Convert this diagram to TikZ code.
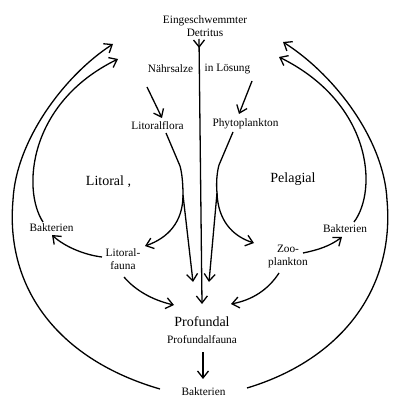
\documentclass[tikz,border=0pt]{standalone}
\usepackage{fontspec}
\setmainfont{Liberation Serif}
\usetikzlibrary{arrows.meta,decorations.markings}
\begin{document}
\begin{tikzpicture}[x=1pt,y=-1pt,
  lbl/.style={inner sep=0pt, align=center, font=\fontsize{11.3}{13}\selectfont},
  big/.style={inner sep=0pt, font=\fontsize{14}{16}\selectfont},
  flow/.style={line width=1.3pt, -{Straight Barb[length=7pt,width=11pt]}},
  plainline/.style={line width=1.3pt},
  midtip/.style={decoration={markings, mark=at position 9pt with {\arrow{Straight Barb[length=7pt,width=11pt]}}}, postaction=decorate}]
\useasboundingbox (0,0) rectangle (400,403);
% texts
\node[lbl] (det) at (205,26.5) {Eingeschwemmter\\Detritus};
\node[lbl] (naehr) at (170.5,69) {Nährsalze};
\node[lbl] (loes) at (227.5,69) {in Lösung};
\node[lbl] (lflora) at (157.5,126) {Litoralflora};
\node[lbl] (phyto) at (245.5,124) {Phytoplankton};
\node[big] (litoral) at (108.5,182) {Litoral ,};
\node[big] (pelagial) at (293,179) {Pelagial};
\node[lbl] (bakL) at (51.5,228) {Bakterien};
\node[lbl] (lfauna) at (123,259.5) {Litoral-\\fauna};
\node[lbl] (bakR) at (345,229) {Bakterien};
\node[lbl] (zoo) at (288,257) {Zoo-\\plankton};
\node[big] (prof) at (202,322) {Profundal};
\node[lbl] (proff) at (202,340) {Profundalfauna};
\node[lbl] (bakB) at (203.5,392) {Bakterien};
% anchor coordinates
\coordinate (dA) at (199,39);
\coordinate (pTop) at (202,304);
\coordinate (lsplit) at (183,195);
\coordinate (psplit) at (217,193);
% detritus
\draw[flow,midtip] (dA) -- (pTop);
% nutrients
\draw[flow] (147,87) -- (162,118);
\draw[flow] (252,81) -- (239,114);
% litoralflora
\draw[plainline] (166,133) -- (180,166) .. controls (182,173) and (183,184) .. (lsplit);
\draw[flow] (lsplit) -- (193,282);
\draw[flow] (lsplit) .. controls (183,222) and (168,238) .. (145,246);
% phytoplankton
\draw[plainline] (233,132) -- (219,165) .. controls (217,172) and (216,183) .. (psplit);
\draw[flow] (psplit) -- (209,282);
\draw[flow] (psplit) .. controls (218,220) and (232,236) .. (254,243);
% litoralfauna
\draw[flow] (102,257) .. controls (85,255) and (65,247) .. (52,235);
\draw[flow] (124,277) .. controls (135,290) and (152,300) .. (174,305);
% zooplankton
\draw[flow] (303,253) .. controls (318,250) and (330,246) .. (342,237);
\draw[flow] (279,273) .. controls (268,290) and (252,300) .. (231,304);
% profundalfauna -> bakterien
\draw[flow] (203,352) -- (203,379);
% big arcs left
\draw[flow] (160,389) .. controls (60,360) and (5,290) .. (13,200) .. controls (16,140) and (65,75) .. (113,44);
\draw[flow] (43,222) .. controls (22,190) and (28,103) .. (118,59);
% big arcs right
\draw[flow] (247,388) .. controls (340,360) and (395,290) .. (387,200) .. controls (384,140) and (335,75) .. (283,42);
\draw[flow] (354,222) .. controls (378,190) and (372,103) .. (279,57);
\end{tikzpicture}
\end{document}
